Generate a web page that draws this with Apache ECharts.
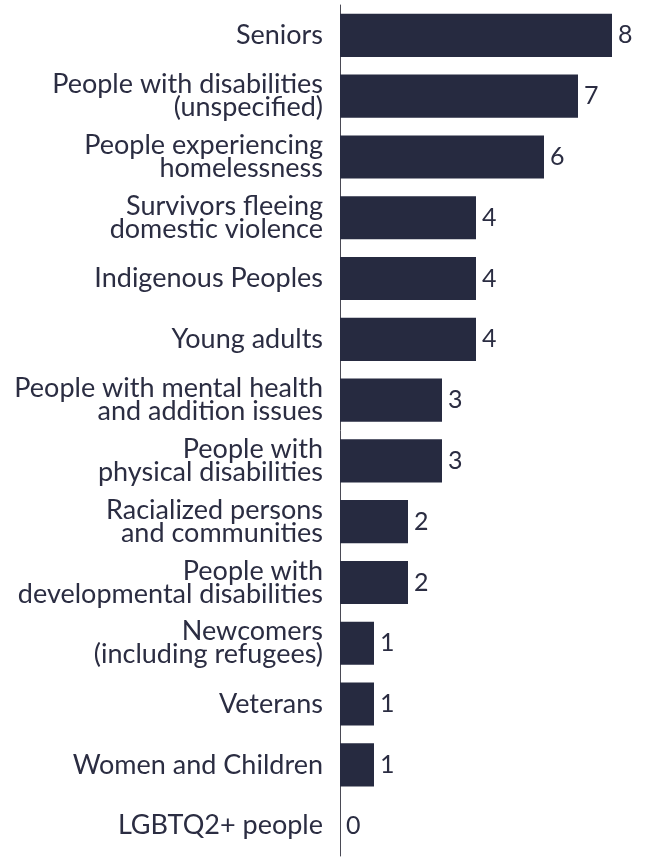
<!DOCTYPE html>
<html>
<head>
<meta charset="utf-8">
<script src="https://cdn.jsdelivr.net/npm/echarts@6/dist/echarts.min.js"></script>
<style>
  html, body { margin: 0; padding: 0; background: #ffffff; }
  #chart { width: 652px; height: 859px; }
</style>
</head>
<body>
<div id="chart"></div>
<script>
// Priority groups, listed top to bottom
const categories = [
  'Seniors',
  'People with disabilities\n(unspecified)',
  'People experiencing\nhomelessness',
  'Survivors fleeing\ndomestic violence',
  'Indigenous Peoples',
  'Young adults',
  'People with mental health\nand addition issues',
  'People with\nphysical disabilities',
  'Racialized persons\nand communities',
  'People with\ndevelopmental disabilities',
  'Newcomers\n(including refugees)',
  'Veterans',
  'Women and Children',
  'LGBTQ2+ people'
];
const counts = [8, 7, 6, 4, 4, 4, 3, 3, 2, 2, 1, 1, 1, 0];

const barColor = '#262a40';
const textColor = '#2b2d42';
const fontFamily = 'Lato, "Noto Sans", sans-serif';

const chart = echarts.init(document.getElementById('chart'));
chart.setOption({
  animation: false,
  grid: { left: 340, right: 40, top: 5, bottom: 3, containLabel: false },
  xAxis: {
    type: 'value',
    min: 0,
    max: 8,
    show: false
  },
  yAxis: {
    type: 'category',
    data: categories,
    inverse: true,
    axisLine: { show: true, lineStyle: { color: '#4a4a55', width: 1 } },
    axisTick: { show: false },
    axisLabel: {
      margin: 17,
      color: textColor,
      fontFamily: fontFamily,
      fontSize: 27,
      lineHeight: 23,
      align: 'right'
    }
  },
  series: [{
    type: 'bar',
    data: counts,
    barCategoryGap: '29%',
    itemStyle: { color: barColor },
    label: {
      show: true,
      position: 'right',
      distance: 6,
      color: textColor,
      fontFamily: fontFamily,
      fontSize: 25
    }
  }]
});
</script>
</body>
</html>
